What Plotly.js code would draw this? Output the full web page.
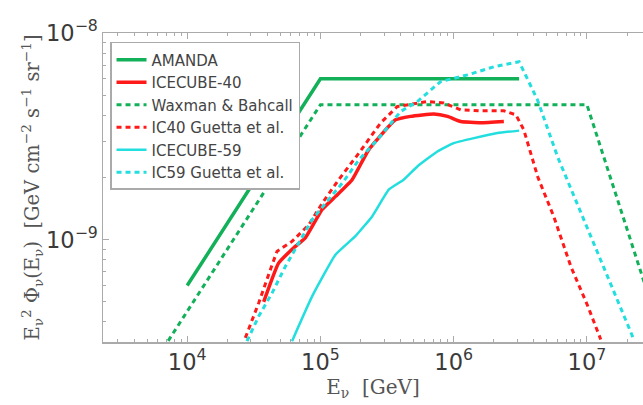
<!DOCTYPE html>
<html>
<head>
<meta charset="utf-8">
<script src="https://cdn.plot.ly/plotly-3.0.1.min.js"></script>
<style>html,body{margin:0;padding:0;background:#fff;}#chart{width:643px;height:405px;}</style>
</head>
<body>
<div id="chart"></div>
<script>
// Energies in GeV, fluxes E^2 Phi in GeV cm^-2 s^-1 sr^-1
const amandaE = [1.0e4, 1.0e5, 3.1e6];
const amandaF = [6.0e-10, 6.0e-9, 6.0e-9];

const ic40E = [3.75e4, 4.85e4, 6.1e4, 7.7e4, 1.03e5, 1.30e5, 1.73e5, 2.30e5, 3.66e5, 4.75e5, 7.1e5, 9.0e5, 1.13e6, 1.60e6, 2.38e6];
const ic40F = [5.0e-10, 7.7e-10, 8.96e-10, 1.02e-9, 1.40e-9, 1.62e-9, 1.95e-9, 2.72e-9, 3.80e-9, 3.95e-9, 4.06e-9, 3.95e-9, 3.73e-9, 3.68e-9, 3.73e-9];

const wbE = [7.2e3, 1.0e5, 1.0e7, 2.8e7];
const wbF = [3.24e-10, 4.5e-9, 4.5e-9, 5.74e-10];

const ic40gE = [2.73e4, 3.44e4, 4.21e4, 4.72e4, 6.12e4, 8.17e4, 1.03e5, 1.37e5, 1.94e5, 2.83e5, 3.78e5, 6.34e5, 8.41e5, 1.13e6, 1.60e6, 2.38e6, 2.93e6, 3.36e6, 4.28e6, 5.65e6, 7.58e6, 1.02e7, 1.27e7];
const ic40gF = [3.35e-10, 4.94e-10, 7.16e-10, 8.78e-10, 9.81e-10, 1.18e-9, 1.50e-9, 1.95e-9, 2.62e-9, 3.67e-9, 4.41e-9, 4.66e-9, 4.59e-9, 4.25e-9, 4.20e-9, 4.20e-9, 4.02e-9, 3.40e-9, 2.01e-9, 1.29e-9, 7.41e-10, 4.74e-10, 3.29e-10];

const ic59E = [6.12e4, 8.66e4, 1.30e5, 1.83e5, 2.45e5, 3.27e5, 4.21e5, 5.34e5, 7.54e5, 1.00e6, 1.42e6, 2.13e6, 3.10e6];
const ic59F = [3.23e-10, 5.32e-10, 8.47e-10, 1.04e-9, 1.30e-9, 1.75e-9, 1.95e-9, 2.26e-9, 2.67e-9, 2.93e-9, 3.10e-9, 3.28e-9, 3.37e-9];

const ic59gE = [2.81e4, 3.44e4, 4.34e4, 5.46e4, 6.87e4, 8.66e4, 1.09e5, 1.46e5, 1.94e5, 2.67e5, 4.00e5, 5.34e5, 7.98e5, 1.27e6, 2.01e6, 3.10e6, 4.26e6, 6.02e6, 9.02e6, 1.43e7, 2.25e7];
const ic59gF = [3.23e-10, 4.26e-10, 5.53e-10, 7.43e-10, 9.64e-10, 1.25e-9, 1.50e-9, 1.88e-9, 2.43e-9, 3.04e-9, 4.17e-9, 4.66e-9, 5.82e-9, 6.27e-9, 6.87e-9, 7.26e-9, 4.74e-9, 2.52e-9, 1.35e-9, 6.65e-10, 3.29e-10];

const names = ['AMANDA', 'ICECUBE-40', 'Waxman &amp; Bahcall', 'IC40 Guetta et al.', 'ICECUBE-59', 'IC59 Guetta et al.'];

const GREEN = '#13b05a', RED = '#ff1a1a', CYAN = '#22dede';
const DASH = '5px,4px';

const traces = [
  {x: amandaE, y: amandaF, name: names[0], line: {color: GREEN, width: 3.5}},
  {x: ic40E, y: ic40F, name: names[1], line: {color: RED, width: 3.5, shape: 'spline', smoothing: 0.4}},
  {x: wbE, y: wbF, name: names[2], line: {color: GREEN, width: 3, dash: DASH}},
  {x: ic40gE, y: ic40gF, name: names[3], line: {color: RED, width: 3, dash: DASH}},
  {x: ic59E, y: ic59F, name: names[4], line: {color: CYAN, width: 2.5, shape: 'spline', smoothing: 0.4}},
  {x: ic59gE, y: ic59gF, name: names[5], line: {color: CYAN, width: 3, dash: DASH}}
].map(t => Object.assign({type: 'scatter', mode: 'lines', hoverinfo: 'skip'}, t));

const axisCommon = {
  type: 'log', dtick: 1, exponentformat: 'power', showexponent: 'all',
  showgrid: false, zeroline: false, showline: true, linecolor: '#aaaaaa', linewidth: 1.5,
  ticks: 'inside', ticklen: 6, tickwidth: 1, tickcolor: '#aaaaaa',
  tickfont: {family: 'DejaVu Sans', size: 18, color: '#3a3a3a'},
  minor: {ticks: 'inside', ticklen: 3, tickcolor: '#aaaaaa', dtick: 'D1', showgrid: false}
};

const layout = {
  width: 643, height: 405,
  margin: {l: 103, r: 0, t: 33, b: 63},
  paper_bgcolor: '#ffffff', plot_bgcolor: '#ffffff',
  showlegend: true,
  legend: {
    x: 0.013, y: 0.971, xanchor: 'left', yanchor: 'top',
    bgcolor: '#ffffff', bordercolor: '#aaaaaa', borderwidth: 1.5,
    font: {family: 'DejaVu Sans', size: 15, color: '#444444'},
    tracegroupgap: 0
  },
  xaxis: Object.assign({}, axisCommon, {
    range: [3.368, 7.421], mirror: 'allticks',
    title: {text: 'E<sub>ν</sub>  [GeV]', font: {family: 'DejaVu Serif', size: 20, color: '#555555'}, standoff: 4}
  }),
  yaxis: Object.assign({}, axisCommon, {
    range: [-9.495, -8.0], mirror: false,
    title: {text: 'E<sub>ν</sub><sup>2</sup> Φ<sub>ν</sub>(E<sub>ν</sub>)  [GeV cm<sup>−2</sup> s<sup>−1</sup> sr<sup>−1</sup>]', font: {family: 'DejaVu Serif', size: 19.5, color: '#555555'}, standoff: 0}
  })
};

Plotly.newPlot('chart', traces, layout, {displayModeBar: false, staticPlot: true});
</script>
</body>
</html>
